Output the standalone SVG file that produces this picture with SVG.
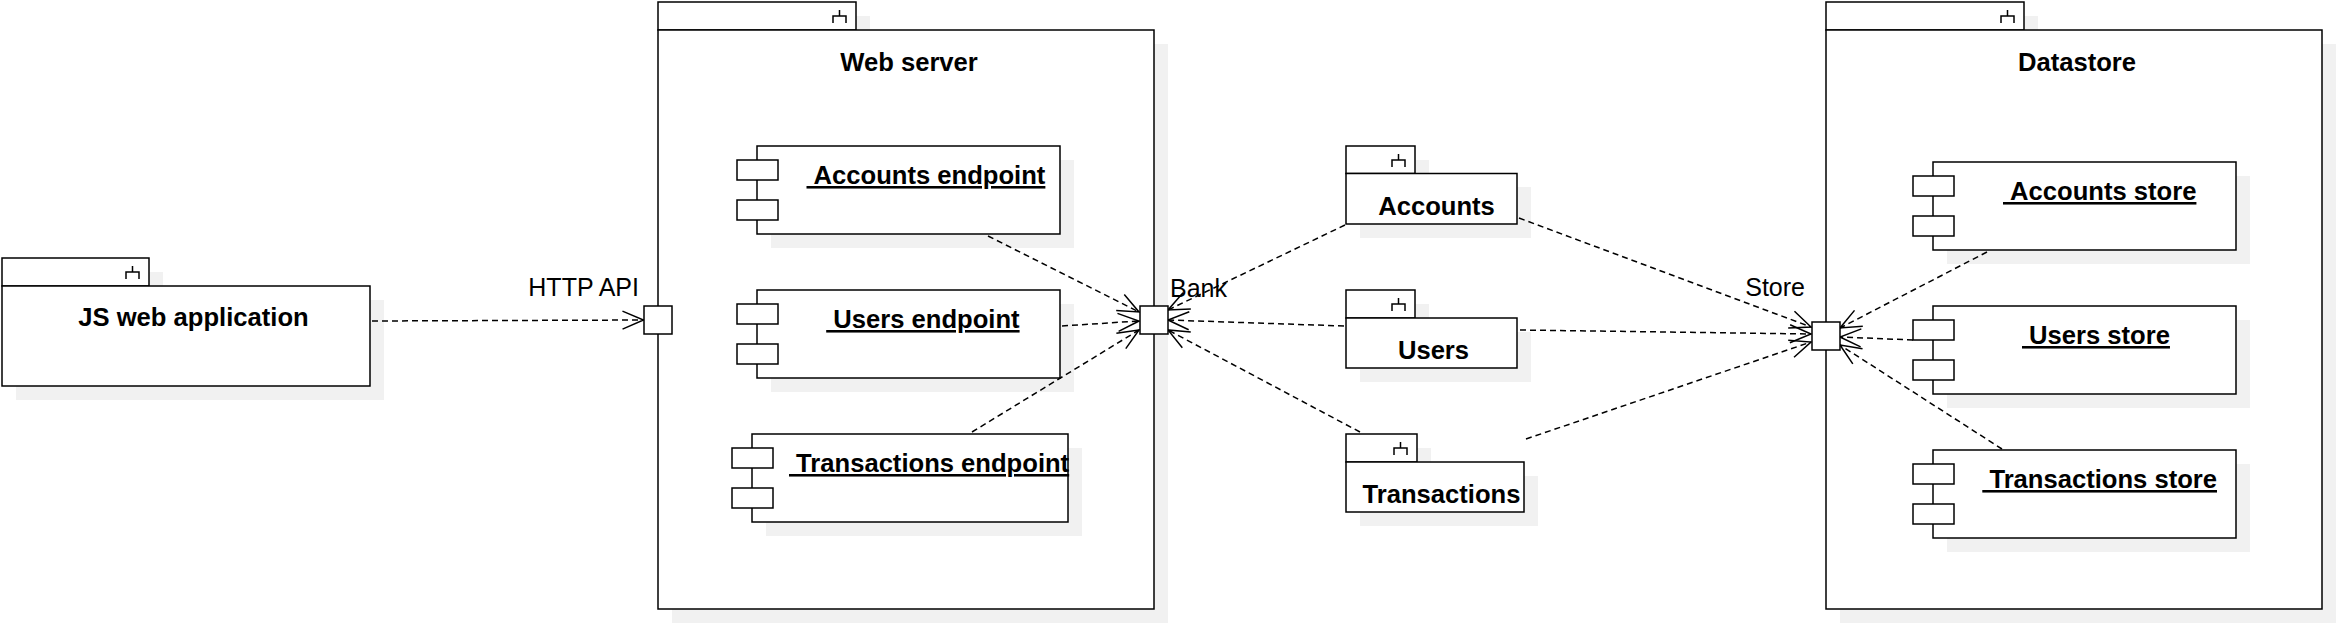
<svg xmlns="http://www.w3.org/2000/svg" width="2336" height="624" viewBox="0 0 2336 624">
<style>
.bg{fill:#ffffff}
.box{fill:#ffffff;stroke:#000000;stroke-width:1.5}
.sh{fill:#f1f1f1;stroke:none}
.ico{fill:none;stroke:#000000;stroke-width:1.5}
.b{font-family:"Liberation Sans",Arial,Helvetica,sans-serif;font-weight:bold;font-size:25.6px;fill:#000000}
.n{font-family:"Liberation Sans",Arial,Helvetica,sans-serif;font-size:25px;fill:#000000}
.u{text-decoration:underline}
.e{fill:none;stroke:#000000;stroke-width:1.5;stroke-dasharray:6 4;marker-end:url(#open)}
</style>
<defs>
<marker id="open" viewBox="-24 -11 26 22" refX="0" refY="0" markerWidth="26" markerHeight="22" markerUnits="userSpaceOnUse" orient="auto">
<path d="M-21,-9 L0,0 L-21,9" fill="none" stroke="#000000" stroke-width="1.5"/>
</marker>
</defs>
<rect class="bg" x="0" y="0" width="2336" height="624"/>

<g id="js-web-application">
<rect class="sh" x="16" y="272" width="147" height="28"/>
<rect class="sh" x="16" y="300" width="368" height="100"/>
<rect class="box" x="2" y="258" width="147" height="28"/>
<rect class="box" x="2" y="286" width="368" height="100"/>
<path class="ico" d="M132.5,266 V272 M126,279 V272 H139 V279"/>
<text class="b" x="193.5" y="326" text-anchor="middle">JS web application</text>
</g>

<g id="web-server">
<rect class="sh" x="672" y="16" width="198" height="28"/>
<rect class="sh" x="672" y="44" width="496" height="579"/>
<rect class="box" x="658" y="2" width="198" height="28"/>
<rect class="box" x="658" y="30" width="496" height="579"/>
<path class="ico" d="M839.5,10 V16 M833,23 V16 H846 V23"/>
<text class="b" x="909" y="70.5" text-anchor="middle">Web server</text>
</g>

<g id="accounts-endpoint">
<rect class="sh" x="771" y="160" width="303" height="88"/>
<rect class="box" x="757" y="146" width="303" height="88"/>
<rect class="box" x="737" y="160" width="41" height="20"/>
<rect class="box" x="737" y="200" width="41" height="20"/>
<text class="b u" x="806.5" y="184" xml:space="preserve">&#160;Accounts endpoint</text>
</g>

<g id="users-endpoint">
<rect class="sh" x="771" y="304" width="303" height="88"/>
<rect class="box" x="757" y="290" width="303" height="88"/>
<rect class="box" x="737" y="304" width="41" height="20"/>
<rect class="box" x="737" y="344" width="41" height="20"/>
<text class="b u" x="826.2" y="328" xml:space="preserve">&#160;Users endpoint</text>
</g>

<g id="transactions-endpoint">
<rect class="sh" x="766" y="448" width="316" height="88"/>
<rect class="box" x="752" y="434" width="316" height="88"/>
<rect class="box" x="732" y="448" width="41" height="20"/>
<rect class="box" x="732" y="488" width="41" height="20"/>
<text class="b u" x="789" y="472" xml:space="preserve">&#160;Transactions endpoint</text>
</g>

<g id="accounts">
<rect class="sh" x="1360" y="160" width="69" height="27"/>
<rect class="sh" x="1360" y="187" width="171" height="51"/>
<rect class="box" x="1346" y="146" width="69" height="27.5"/>
<rect class="box" x="1346" y="173.5" width="171" height="50.5"/>
<path class="ico" d="M1398.5,154 V160 M1392,167 V160 H1405 V167"/>
<text class="b" x="1436.5" y="215" text-anchor="middle">Accounts</text>
</g>

<g id="users">
<rect class="sh" x="1360" y="304" width="69" height="28"/>
<rect class="sh" x="1360" y="332" width="171" height="50"/>
<rect class="box" x="1346" y="290" width="69" height="28"/>
<rect class="box" x="1346" y="318" width="171" height="50"/>
<path class="ico" d="M1398.5,298 V304 M1392,311 V304 H1405 V311"/>
<text class="b" x="1433.5" y="358.5" text-anchor="middle">Users</text>
</g>

<g id="transactions">
<rect class="sh" x="1360" y="448" width="71" height="28"/>
<rect class="sh" x="1360" y="476" width="178" height="50"/>
<rect class="box" x="1346" y="434" width="71" height="28"/>
<rect class="box" x="1346" y="462" width="178" height="50"/>
<path class="ico" d="M1400.5,442 V448 M1394,455 V448 H1407 V455"/>
<text class="b" x="1441.5" y="502.5" text-anchor="middle">Transactions</text>
</g>

<g id="datastore">
<rect class="sh" x="1840" y="16" width="198" height="28"/>
<rect class="sh" x="1840" y="44" width="496" height="579"/>
<rect class="box" x="1826" y="2" width="198" height="28"/>
<rect class="box" x="1826" y="30" width="496" height="579"/>
<path class="ico" d="M2007.5,10 V16 M2001,23 V16 H2014 V23"/>
<text class="b" x="2077" y="70.5" text-anchor="middle">Datastore</text>
</g>

<g id="accounts-store">
<rect class="sh" x="1947" y="176" width="303" height="88"/>
<rect class="box" x="1933" y="162" width="303" height="88"/>
<rect class="box" x="1913" y="176" width="41" height="20"/>
<rect class="box" x="1913" y="216" width="41" height="20"/>
<text class="b u" x="2003" y="200" xml:space="preserve">&#160;Accounts store</text>
</g>

<g id="users-store">
<rect class="sh" x="1947" y="320" width="303" height="88"/>
<rect class="box" x="1933" y="306" width="303" height="88"/>
<rect class="box" x="1913" y="320" width="41" height="20"/>
<rect class="box" x="1913" y="360" width="41" height="20"/>
<text class="b u" x="2022" y="344" xml:space="preserve">&#160;Users store</text>
</g>

<g id="transactions-store">
<rect class="sh" x="1947" y="464" width="303" height="88"/>
<rect class="box" x="1933" y="450" width="303" height="88"/>
<rect class="box" x="1913" y="464" width="41" height="20"/>
<rect class="box" x="1913" y="504" width="41" height="20"/>
<text class="b u" x="1982.3" y="488" xml:space="preserve">&#160;Transactions store</text>
</g>

<g id="connectors">
<path class="e" d="M372,321 L643.5,320"/>
<path class="e" d="M988,236 L1139,312"/>
<path class="e" d="M1062,326 L1139,321"/>
<path class="e" d="M972,432 L1139,330"/>
<path class="e" d="M1345,225 L1168,310"/>
<path class="e" d="M1344,326 L1168,320"/>
<path class="e" d="M1360,432 L1168,330"/>
<path class="e" d="M1519,218 L1811,327"/>
<path class="e" d="M1520,330 L1811,334"/>
<path class="e" d="M1526,439 L1811,342"/>
<path class="e" d="M1987,252 L1840,328"/>
<path class="e" d="M1913,340 L1840,337"/>
<path class="e" d="M2002,449 L1840,345"/>
</g>

<g id="http-api-port">
<rect class="box" x="644" y="306" width="28" height="28"/>
<text class="n" x="639" y="296" text-anchor="end">HTTP API</text>
</g>

<g id="bank-port">
<rect class="box" x="1140" y="306" width="28" height="28"/>
<text class="n" x="1170" y="296.5">Bank</text>
</g>

<g id="store-port">
<rect class="box" x="1812" y="322" width="28" height="28"/>
<text class="n" x="1805" y="295.5" text-anchor="end">Store</text>
</g>
</svg>
